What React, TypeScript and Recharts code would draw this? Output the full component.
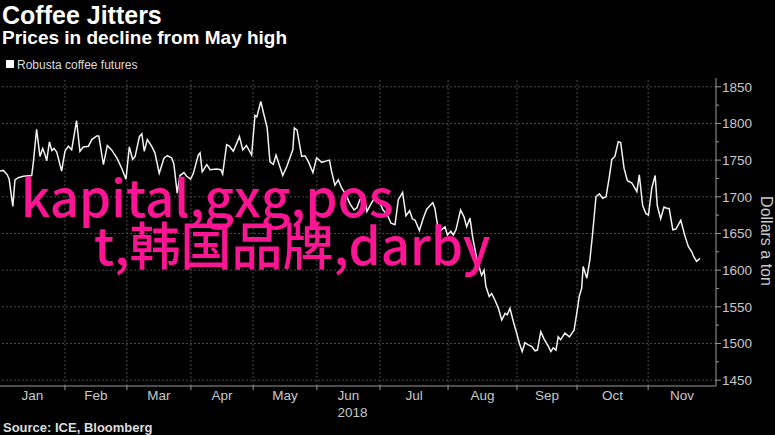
import React from "react";
import { LineChart, Line, XAxis, YAxis, ReferenceLine } from "recharts";

// Trading-day index since start of 2018 (approx.) and Robusta futures price ($/ton)
const tradingDays = [
  0, 1.1, 2.4, 3.0, 4.2, 4.9, 6.0, 7.6, 10.4, 10.9, 12.0, 13.1, 14.0, 14.8, 15.3, 16.2, 17.0, 17.7, 18.6, 20.2,
  21.3, 22.4, 23.5, 25.1, 26.2, 27.3, 29.0, 30.1, 31.7, 32.4, 33.9, 35.2, 36.6, 38.3, 39.9, 41.3, 42.4, 43.5, 44.3, 45.7,
  46.5, 47.3, 48.3, 49.7, 50.8, 52.2, 53.8, 54.9, 56.3, 57.0, 58.1, 59.0, 60.3, 61.2, 62.5, 63.4, 65.0, 65.6, 66.3, 67.8,
  68.9, 71.0, 72.4, 73.0, 74.3, 75.2, 76.5, 78.5, 79.6, 80.8, 82.5, 83.6, 84.2, 85.5, 86.3, 87.6, 88.5, 89.6, 90.5, 92.7,
  94.0, 96.0, 96.5, 97.4, 98.9, 100.0, 101.1, 102.6, 103.8, 105.5, 107.1, 108.0, 108.7, 109.8, 110.9, 112.0, 113.4, 114.8, 116.1, 117.0,
  118.0, 119.3, 120.3, 121.6, 123.0, 124.3, 125.6, 126.9, 128.2, 129.5, 130.6, 132.0, 133.1, 134.3, 135.2, 136.1, 137.5, 138.8, 139.9, 140.8,
  141.9, 142.6, 143.7, 144.8, 145.9, 146.7, 147.8, 148.6, 149.5, 151.0, 152.1, 153.0, 154.1, 155.0, 156.3, 157.4, 157.9, 158.7, 159.3, 160.4,
  161.2, 162.3, 163.4, 164.5, 165.6, 166.3, 167.2, 168.3, 169.4, 170.3, 171.2, 172.1, 173.2, 174.3, 175.4, 176.2, 177.3, 178.4, 179.8, 180.6,
  181.4, 182.3, 183.0, 183.8, 185.2, 186.7, 188.2, 189.1, 189.9, 190.7, 191.2, 192.4, 193.4, 194.3, 195.4, 196.5, 197.6, 198.7, 199.8, 200.6,
  201.6, 202.7, 203.5, 204.6, 205.7, 207.1, 207.9, 208.8, 209.6, 210.7, 211.8, 212.6, 213.7, 214.8, 215.5, 216.6, 217.7, 218.8, 219.4, 220.6,
  221.6, 223.2, 224.6, 225.7, 226.8, 227.5, 228.4, 229.5,
];

const prices = [
  1735, 1736, 1730, 1724, 1687, 1723, 1726, 1728, 1729, 1746, 1792, 1755, 1766, 1757, 1749, 1775, 1763, 1766, 1761, 1735,
  1762, 1769, 1764, 1804, 1762, 1768, 1769, 1778, 1783, 1783, 1744, 1770, 1764, 1753, 1739, 1724, 1768, 1751, 1755, 1782,
  1786, 1762, 1778, 1769, 1760, 1732, 1753, 1756, 1753, 1745, 1705, 1729, 1733, 1728, 1724, 1732, 1757, 1760, 1734, 1744,
  1737, 1738, 1737, 1731, 1771, 1769, 1762, 1782, 1764, 1770, 1757, 1811, 1809, 1830, 1816, 1794, 1748, 1744, 1757, 1729,
  1741, 1764, 1794, 1791, 1755, 1756, 1748, 1733, 1753, 1747, 1749, 1750, 1735, 1716, 1723, 1712, 1703, 1690, 1682, 1685,
  1696, 1702, 1680, 1690, 1700, 1694, 1682, 1676, 1664, 1662, 1696, 1706, 1674, 1681, 1670, 1668, 1654, 1671, 1683, 1687,
  1692, 1684, 1655, 1655, 1659, 1648, 1653, 1648, 1655, 1682, 1673, 1659, 1671, 1644, 1616, 1600, 1593, 1600, 1578, 1564,
  1568, 1559, 1548, 1532, 1541, 1539, 1548, 1530, 1514, 1500, 1489, 1501, 1498, 1496, 1490, 1491, 1516, 1506, 1496, 1489,
  1494, 1491, 1509, 1505, 1514, 1509, 1518, 1541, 1564, 1575, 1605, 1589, 1614, 1650, 1700, 1704, 1698, 1700, 1728, 1751,
  1755, 1775, 1774, 1739, 1722, 1719, 1714, 1707, 1730, 1688, 1677, 1675, 1712, 1729, 1688, 1670, 1686, 1684, 1684, 1655,
  1656, 1668, 1646, 1632, 1625, 1618, 1612, 1616,
];

const monthLabels = ["Jan", "Feb", "Mar", "Apr", "May", "Jun", "Jul", "Aug", "Sep", "Oct", "Nov"];
const monthStarts = [0, 21.3, 41.6, 62.6, 83.0, 103.9, 124.6, 146.9, 169.5, 189.2, 212.5];
const axisEnd = 234.75;
const yearLabel = "2018";
const yearMonth = "Jun";

const yMajorTicks = [1450, 1500, 1550, 1600, 1650, 1700, 1750, 1800, 1850];
const yMinorTicks = [1475, 1525, 1575, 1625, 1675, 1725, 1775, 1825];
const yDomain = [1442, 1862];

const title = "Coffee Jitters";
const subtitle = "Prices in decline from May high";
const seriesName = "Robusta coffee futures";
const source = "Source: ICE, Bloomberg";
const yAxisTitle = "Dollars a ton";
const overlayLine1 = "kapital,gxg,pos";
const overlayLine2 = "t,韩国品牌,darby";

const data = tradingDays.map((d, i) => ({ day: d, price: prices[i] }));
const monthCenters = monthStarts.map((s, i) => (s + (i + 1 < monthStarts.length ? monthStarts[i + 1] : axisEnd)) / 2);
const boundaryTicks = monthStarts.slice(1);
const xTicks = [...boundaryTicks, ...monthCenters].sort((a, b) => a - b);
const yTicks = [...yMajorTicks, ...yMinorTicks].sort((a, b) => a - b);

const FONT = "'Liberation Sans', Arial, sans-serif";
const GRID = "#4a4a4a";
const AXIS = "#9a9a9a";
const TICKTEXT = "#c8c8c8";
const PINK = "#ff1493";

const XTick = (props: any) => {
  const { x, y, payload } = props;
  const v = payload.value;
  const ci = monthCenters.findIndex((c) => Math.abs(c - v) < 1e-6);
  if (ci < 0) {
    return <line x1={x} x2={x} y1={y} y2={y + 4} stroke={AXIS} strokeWidth={1} />;
  }
  const label = monthLabels[ci];
  return (
    <g>
      <text x={x} y={y} dy={14} textAnchor="middle" fill={TICKTEXT} fontSize={13.5} fontFamily={FONT}>
        {label}
      </text>
      {label === yearMonth && (
        <text x={x + 4} y={y} dy={31} textAnchor="middle" fill={TICKTEXT} fontSize={13.5} fontFamily={FONT}>
          {yearLabel}
        </text>
      )}
    </g>
  );
};

const YTick = (props: any) => {
  const { x, y, payload } = props;
  const v = payload.value;
  const major = yMajorTicks.includes(v);
  return (
    <g>
      <line x1={x} x2={x + (major ? 5 : 3)} y1={y} y2={y} stroke={AXIS} strokeWidth={1} />
      {major && (
        <text x={x + 6} y={y} dy={5} textAnchor="start" fill={TICKTEXT} fontSize={13.5} fontFamily={FONT}>
          {v}
        </text>
      )}
    </g>
  );
};

export default function App() {
  return (
    <div style={{ position: "relative", width: 775, height: 435, background: "#000", overflow: "hidden" }}>
      <style>{"html,body{margin:0;padding:0;background:#000;}"}</style>
      <LineChart
        width={775}
        height={435}
        data={data}
        margin={{ top: 78, right: 0, bottom: 19, left: 0 }}
      >
        <XAxis
          dataKey="day"
          type="number"
          domain={[0, axisEnd]}
          ticks={xTicks}
          interval={0}
          tick={<XTick />}
          tickLine={false}
          tickSize={0}
          tickMargin={0}
          axisLine={{ stroke: AXIS, strokeWidth: 1 }}
          height={30}
        />
        <YAxis
          orientation="right"
          type="number"
          domain={yDomain}
          ticks={yTicks}
          interval={0}
          tick={<YTick />}
          tickLine={false}
          tickSize={0}
          tickMargin={0}
          axisLine={{ stroke: AXIS, strokeWidth: 1 }}
          width={59}
        />
        {yMajorTicks.map((v) => (
          <ReferenceLine key={"h" + v} y={v} stroke={GRID} strokeDasharray="2 2" strokeWidth={1} />
        ))}
        {boundaryTicks.map((v) => (
          <ReferenceLine key={"v" + v} x={v} stroke={GRID} strokeDasharray="2 2" strokeWidth={1} />
        ))}
        <Line
          type="linear"
          dataKey="price"
          stroke="#f2f2f2"
          strokeWidth={1.5}
          dot={false}
          isAnimationActive={false}
        />
      </LineChart>
      <svg width={775} height={435} style={{ position: "absolute", left: 0, top: 0, pointerEvents: "none" }}>
        <text x={2} y={24} fill="#fff" fontSize={25} fontWeight="bold" fontFamily={FONT}>{title}</text>
        <text x={2} y={44} fill="#fff" fontSize={19} fontWeight="bold" fontFamily={FONT}>{subtitle}</text>
        <rect x={6} y={60} width={8} height={8} fill="#fff" />
        <text x={17} y={69} fill="#ddd" fontSize={12} fontFamily={FONT}>{seriesName}</text>
        <text x={3} y={432} fill="#ddd" fontSize={13} fontWeight="bold" fontFamily={FONT}>{source}</text>
        <text
          x={765}
          y={241}
          transform="rotate(90 765 241)"
          textAnchor="middle"
          dominantBaseline="middle"
          fill={TICKTEXT}
          fontSize={16}
          fontFamily={FONT}
        >
          {yAxisTitle}
        </text>
        <text x={21} y={217} fill={PINK} fontSize={51} fontWeight={500} fontFamily="'Noto Sans CJK SC', sans-serif">{overlayLine1}</text>
        <text x={94} y={265} fill={PINK} fontSize={51} fontWeight={500} fontFamily="'Noto Sans CJK SC', sans-serif">{overlayLine2}</text>
      </svg>
    </div>
  );
}
